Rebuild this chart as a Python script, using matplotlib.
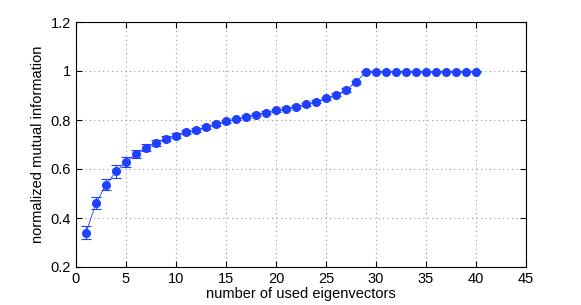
import matplotlib
matplotlib.use("Agg")
import matplotlib.pyplot as plt
import numpy as np

plt.rcParams['font.family'] = ['Liberation Sans', 'DejaVu Sans']

# number of eigenvectors used
k = list(range(1, 41))
nmi = [0.340, 0.460, 0.536, 0.590, 0.629, 0.661, 0.687, 0.707, 0.724, 0.736,
       0.750, 0.759, 0.773, 0.784, 0.795, 0.804, 0.813, 0.822, 0.830, 0.840,
       0.846, 0.854, 0.865, 0.875, 0.889, 0.903, 0.922, 0.954, 0.997, 0.997,
       0.997, 0.997, 0.997, 0.997, 0.997, 0.997, 0.997, 0.997, 0.997, 0.997]
err = [0.026, 0.024, 0.023, 0.025, 0.022, 0.016, 0.014, 0.013, 0.011, 0.010,
       0.009, 0.008, 0.008, 0.007, 0.007, 0.006, 0.006, 0.006, 0.006, 0.006,
       0.006, 0.006, 0.006, 0.006, 0.006, 0.006, 0.007, 0.007, 0.003, 0.003,
       0.003, 0.003, 0.003, 0.003, 0.003, 0.003, 0.003, 0.003, 0.003, 0.003]

blue = (0.12, 0.25, 1.0)

fig = plt.figure(figsize=(5.81, 3.05), dpi=100)
ax = fig.add_axes([76/581, 38/305, 450/581, 245/305])

ax.errorbar(k, nmi, yerr=err, fmt='o', color=blue, ecolor=blue, elinewidth=0.8,
            capsize=3.5, capthick=0.8, markersize=5.5, linestyle='-', linewidth=0.6)

ax.set_xlim(0, 45)
ax.set_ylim(0.2, 1.2)
ax.set_xticks(range(0, 46, 5))
ax.set_yticks([0.2, 0.4, 0.6, 0.8, 1.0, 1.2])
ax.set_yticklabels(['0.2', '0.4', '0.6', '0.8', '1', '1.2'])
ax.grid(True, linestyle=(0, (1, 3)), color='0.6', linewidth=0.8)
ax.tick_params(direction='in', top=True, right=True, labelsize=10.5, length=4)
for s in ax.spines.values():
    s.set_linewidth(0.8)

ax.set_xlabel("number of used eigenvectors", fontsize=10.5, labelpad=1)
ax.set_ylabel("normalized mutual information", fontsize=10.5, labelpad=4)

fig.savefig("out.png", dpi=100)
